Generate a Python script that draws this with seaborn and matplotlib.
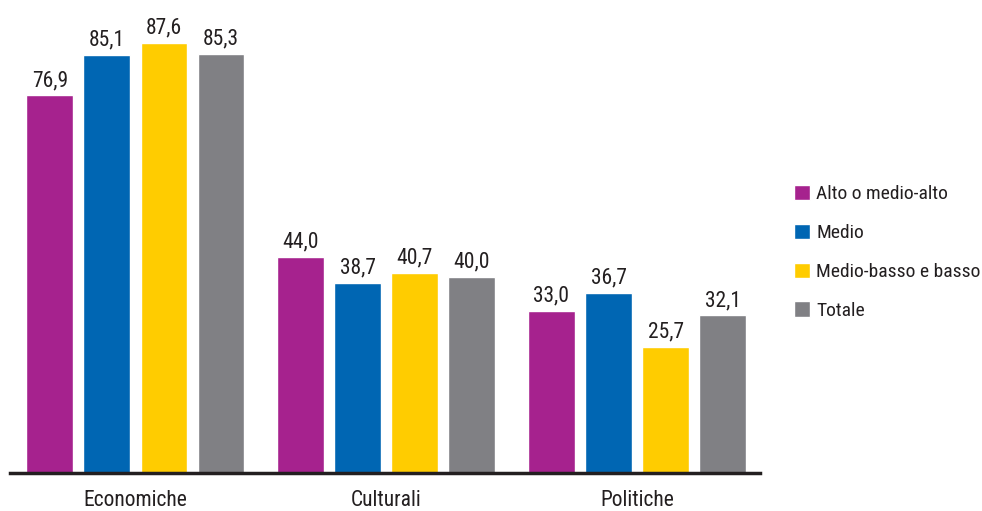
import pandas as pd
import seaborn as sns
import matplotlib.pyplot as plt
from matplotlib import font_manager

# Data
categorie = ['Economiche', 'Culturali', 'Politiche']
gruppi = ['Alto o medio-alto', 'Medio', 'Medio-basso e basso', 'Totale']
alto = [76.9, 44.0, 33.0]
medio = [85.1, 38.7, 36.7]
basso = [87.6, 40.7, 25.7]
totale = [85.3, 40.0, 32.1]
colori = ['#A6228E', '#0066B3', '#FFCC00', '#808084']

rows = []
for g, vals in zip(gruppi, [alto, medio, basso, totale]):
    for c, v in zip(categorie, vals):
        rows.append({'categoria': c, 'gruppo': g, 'valore': v})
df = pd.DataFrame(rows)

sns.set_theme(style="white")
# look for a condensed face, else fall back
nomi = {f.name for f in font_manager.fontManager.ttflist}
cond = [n for n in ['Liberation Sans Narrow', 'DejaVu Sans Condensed', 'Roboto Condensed']
        if n in nomi]
plt.rcParams['font.family'] = cond + ['DejaVu Sans']
plt.rcParams['font.stretch'] = 'condensed'

fig = plt.figure(figsize=(9.82, 5.11), dpi=100)
ax = fig.add_axes([10 / 982, 38 / 511, 750 / 982, 473 / 511])

sns.barplot(data=df, x='categoria', y='valore', hue='gruppo',
            order=categorie, hue_order=gruppi, palette=colori,
            width=0.91, gap=0.18, saturation=1, ax=ax, legend=True)

# value labels with comma decimals
for cont in ax.containers:
    labels = [f"{v:.1f}".replace('.', ',') for v in cont.datavalues]
    ax.bar_label(cont, labels=labels, padding=3, fontsize=15.5, color='#231F20')

ax.set_xlim(-0.5, 2.49)
ax.set_ylim(0, 96.3)
ax.set_xlabel('')
ax.set_ylabel('')
ax.set_yticks([])
ax.tick_params(axis='x', length=0, labelsize=15.5, colors='#231F20', pad=12)
for s in ['top', 'right', 'left']:
    ax.spines[s].set_visible(False)
ax.spines['bottom'].set_color('#231F20')
ax.spines['bottom'].set_linewidth(2.5)

leg = ax.legend(loc='upper left', bbox_to_anchor=(786 / 982, 1 - 177 / 511),
                bbox_transform=fig.transFigure, frameon=False, fontsize=14,
                handlelength=0.85, handleheight=0.85, handletextpad=0.3,
                labelspacing=1.05, borderaxespad=0)
for t in leg.get_texts():
    t.set_color('#231F20')

fig.savefig('out.png', dpi=100)
